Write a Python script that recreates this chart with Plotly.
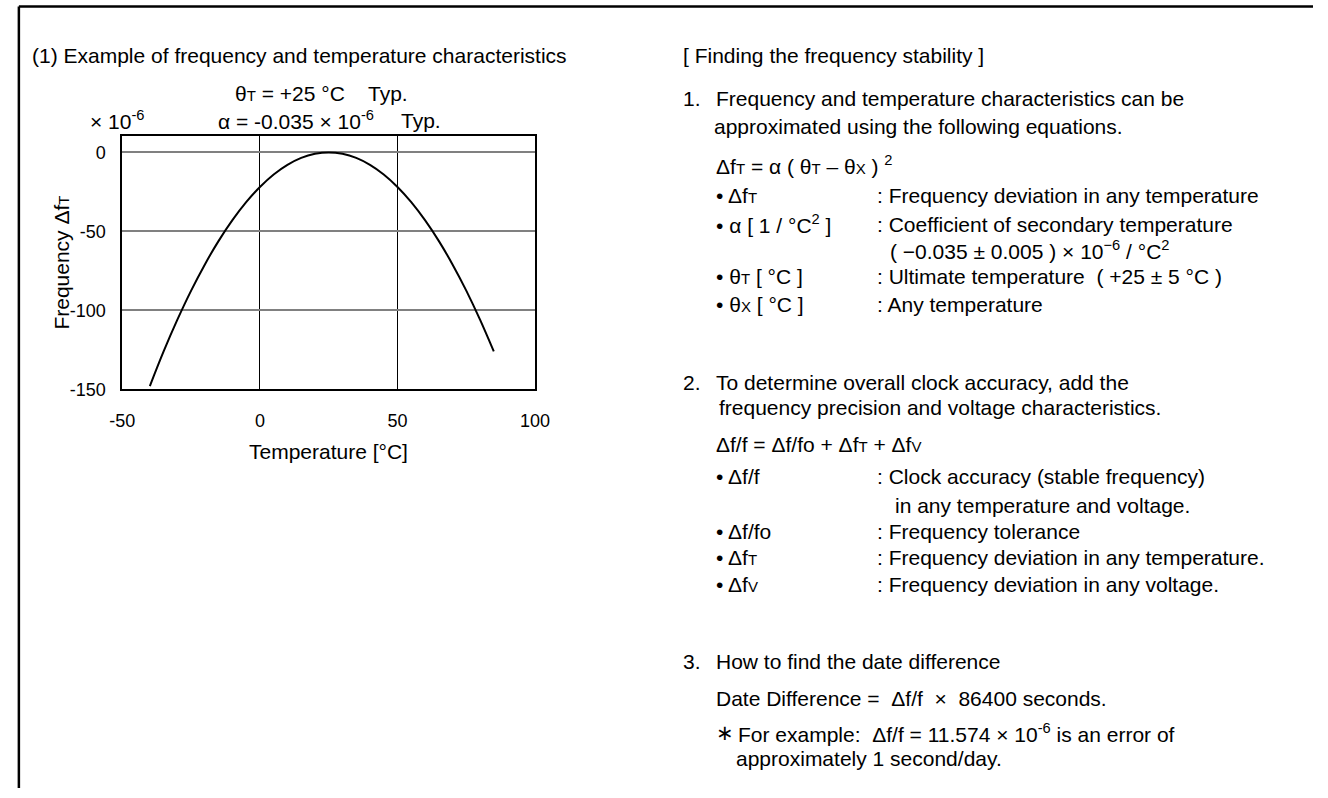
import plotly.graph_objects as go

# ---------------- data ----------------
temperature_c = [-40, -35, -30, -25, -20, -15, -10, -5, 0, 5, 10, 15, 20, 25,
                 30, 35, 40, 45, 50, 55, 60, 65, 70, 75, 80, 85]
freq_dev_ppm = [-147.9, -126.0, -105.9, -87.5, -70.9, -56.0, -42.9, -31.5, -21.9,
                -14.0, -7.9, -3.5, -0.9, 0.0, -0.9, -3.5, -7.9, -14.0, -21.9,
                -31.5, -42.9, -56.0, -70.9, -87.5, -105.9, -126.0]

x_tick_vals = [-50, 0, 50, 100]
x_tick_text = ["-50", "0", "50", "100"]
y_tick_vals = [0, -50, -100, -150]
y_tick_text = ["0", "-50", "-100", "-150"]

W, H = 1328, 798
FONT = "Liberation Sans, Arial, Helvetica, sans-serif"
SC = '<span style="font-size:15px">{}</span>'  # small-caps style letter


def px(x):
    return x / W


def py(y):
    return 1 - y / H


fig = go.Figure()
fig.add_trace(go.Scatter(
    x=temperature_c, y=freq_dev_ppm, mode="lines",
    line=dict(color="black", width=2, shape="spline"),
    showlegend=False, hoverinfo="skip"))

fig.update_layout(
    width=W, height=H,
    margin=dict(l=0, r=0, t=0, b=0),
    paper_bgcolor="white", plot_bgcolor="white",
    font=dict(family=FONT, color="black", size=18),
    xaxis=dict(domain=[px(111.7), px(533.3)], range=[-50, 100],
               tickvals=x_tick_vals, ticktext=x_tick_text,
               showgrid=True, gridcolor="black", gridwidth=1,
               zeroline=False, showline=True, mirror=True,
               linecolor="black", linewidth=2, ticks="",
               ticklabelstandoff=14, tickfont=dict(size=18)),
    yaxis=dict(domain=[py(394.3), py(138)], range=[-150, 10.2],
               tickvals=y_tick_vals, ticktext=y_tick_text,
               showgrid=True, gridcolor="#808080", gridwidth=1.5,
               zeroline=False, showline=True, mirror=True,
               linecolor="black", linewidth=2, ticks="",
               ticklabelstandoff=11, tickfont=dict(size=18)),
)

ann = []


def text(x, y, s, size=21, anchor="left", angle=0):
    ann.append(dict(x=px(x), y=py(y), xref="paper", yref="paper", text=s,
                    showarrow=False, xanchor=anchor, yanchor="middle",
                    textangle=angle, font=dict(size=size, family=FONT, color="black"),
                    borderpad=0))


# left column / chart texts
text(18, 56, "(1) Example of frequency and temperature characteristics")
text(226, 95, "θ" + SC.format("T") + " = +25 °C", 21)
text(362, 95, "Typ.", 21)
text(208, 122, "α = -0.035 × 10<sup>-6</sup>", 21)
text(395, 122, "Typ.", 21)
text(78, 122, "× 10<sup>-6</sup>", 21)
text(50, 266, "Frequency Δf" + SC.format("T"), 21, anchor="center", angle=-90)
text(322.5, 457, "Temperature [°C]", 21, anchor="center")

# right column
L0, L1, LC = 683, 717, 882
text(L0, 56, "[ Finding the frequency stability ]")
text(L0, 100, "1.")
text(L1, 100, "Frequency and temperature characteristics can be")
text(L1 - 2, 128, "approximated using the following equations.")
text(L1, 167, "Δf" + SC.format("T") + " = α ( θ" + SC.format("T") + " – θ" + SC.format("X") + " ) <sup>2</sup>")
text(L1, 198, "• Δf" + SC.format("T"))
text(LC, 198, ": Frequency deviation in any temperature")
text(L1, 227, "• α [ 1 / °C<sup>2</sup> ]")
text(LC, 227, ": Coefficient of secondary temperature")
text(LC + 13, 253, "( −0.035 ± 0.005 ) × 10<sup>−6</sup> / °C<sup>2</sup>")
text(L1, 280, "• θ" + SC.format("T") + " [ °C ]")
text(LC, 280, ": Ultimate temperature  ( +25 ± 5 °C )")
text(L1, 308, "• θ" + SC.format("X") + " [ °C ]")
text(LC, 308, ": Any temperature")

text(L0, 387, "2.")
text(L1, 387, "To determine overall clock accuracy, add the")
text(L1 + 3, 413, "frequency precision and voltage characteristics.")
text(L1, 450, "Δf/f = Δf/fo + Δf" + SC.format("T") + " + Δf" + SC.format("V"))
text(L1, 483, "• Δf/f")
text(LC, 483, ": Clock accuracy (stable frequency)")
text(LC + 18, 512, "in any temperature and voltage.")
text(L1, 538, "• Δf/fo")
text(LC, 538, ": Frequency tolerance")
text(L1, 565, "• Δf" + SC.format("T"))
text(LC, 565, ": Frequency deviation in any temperature.")
text(L1, 592, "• Δf" + SC.format("V"))
text(LC, 592, ": Frequency deviation in any voltage.")

text(L0, 670, "3.")
text(L1, 670, "How to find the date difference")
text(L1, 707, "Date Difference =  Δf/f  ×  86400 seconds.")
text(L1, 742, "∗")
text(740, 742, "For example:  Δf/f = 11.574 × 10<sup>-6</sup> is an error of")
text(738, 768, "approximately 1 second/day.")

fig.update_layout(annotations=ann)

# page frame (top and left rules)
fig.add_shape(type="line", xref="paper", yref="paper", x0=px(6), x1=1,
              y0=py(6.5), y1=py(6.5), line=dict(color="black", width=2.5))
fig.add_shape(type="line", xref="paper", yref="paper", x0=px(6), x1=px(6),
              y0=py(6.5), y1=0, line=dict(color="black", width=2.5))

fig.write_html("out.html", config={"displayModeBar": False},
               post_script="document.body.style.margin='0px';")
